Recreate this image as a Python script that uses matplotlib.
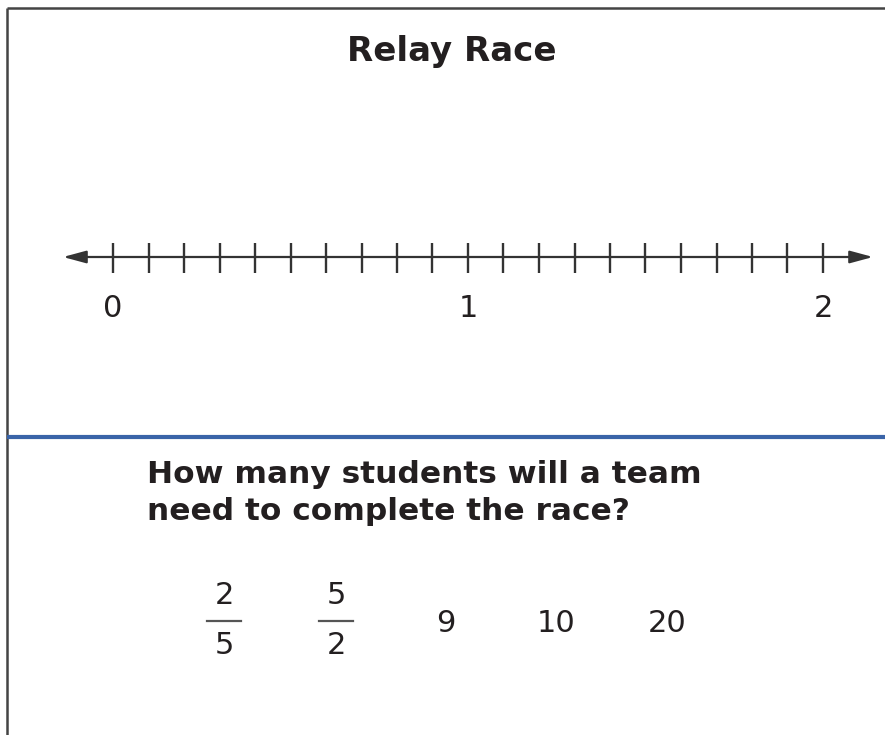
import numpy as np
import matplotlib
matplotlib.use("Agg")
import matplotlib.pyplot as plt

# ---- data ----
title = "Relay Race"
major_values = [0, 1, 2]
major_labels = ["0", "1", "2"]
divisions_per_unit = 10
question_lines = ["How many students will a team", "need to complete the race?"]
choice_numerators = ["2", "5", None, None, None]
choice_denominators = ["5", "2", None, None, None]
choice_whole = [None, None, "9", "10", "20"]

TXT = "#231f20"
LINE = "#333333"
BLUE = "#3a64a8"

W, H = 885, 735
fig = plt.figure(figsize=(W / 100, H / 100), dpi=100)

# background axes in pixel coordinates
bg = fig.add_axes([0, 0, 1, 1])
bg.set_xlim(0, W)
bg.set_ylim(H, 0)
bg.axis("off")

# frame (left and top)
bg.plot([7, 7], [H + 5, 7.5], color="#444444", lw=1.8, solid_capstyle="butt")
bg.plot([7, W + 5], [7.5, 7.5], color="#444444", lw=1.8, solid_capstyle="butt")
# blue separator
bg.plot([7, W + 5], [437, 437], color=BLUE, lw=3.0, solid_capstyle="butt")

bg.text(452, 51, title, ha="center", va="center", fontsize=24.5, fontweight="bold",
        color=TXT, family="DejaVu Sans")

# number line axes: x in value units
px0, px_per_unit = 113, 355
nl = fig.add_axes([0, 0, 1, 1])
nl.set_xlim(-px0 / px_per_unit, (W - px0) / px_per_unit)
nl.set_ylim(H, 0)
nl.axis("off")
nl.patch.set_alpha(0)

lo, hi = min(major_values), max(major_values)
ext = 50 / px_per_unit
nl.annotate("", xy=(hi + ext, 257), xytext=(lo - ext, 257),
            arrowprops=dict(arrowstyle="<|-|>,head_length=1.0,head_width=0.27",
                            mutation_scale=14, lw=1.6, color=LINE,
                            shrinkA=0, shrinkB=0))
n_ticks = (hi - lo) * divisions_per_unit + 1
tick_vals = np.linspace(lo, hi, n_ticks)
nl.vlines(tick_vals, 243, 273, color=LINE, lw=1.7)
for v, lab in zip(major_values, major_labels):
    nl.text(v, 308, lab, ha="center", va="center", fontsize=22, color=TXT)

# question
for i, line in enumerate(question_lines):
    bg.text(147, 474 + 38 * i, line, ha="left", va="center", fontsize=22.5,
            fontweight="bold", color=TXT)

# answer choices
choice_x = [224, 336, 446, 556, 667]
for x, num, den, whole in zip(choice_x, choice_numerators, choice_denominators, choice_whole):
    if whole is not None:
        bg.text(x, 623, whole, ha="center", va="center", fontsize=22, color=TXT)
    else:
        bg.text(x, 596, num, ha="center", va="center", fontsize=22, color=TXT)
        bg.plot([x - 17, x + 17], [621, 621], color="#555555", lw=1.6)
        bg.text(x, 646, den, ha="center", va="center", fontsize=22, color=TXT)

fig.savefig("out.png", dpi=100)
